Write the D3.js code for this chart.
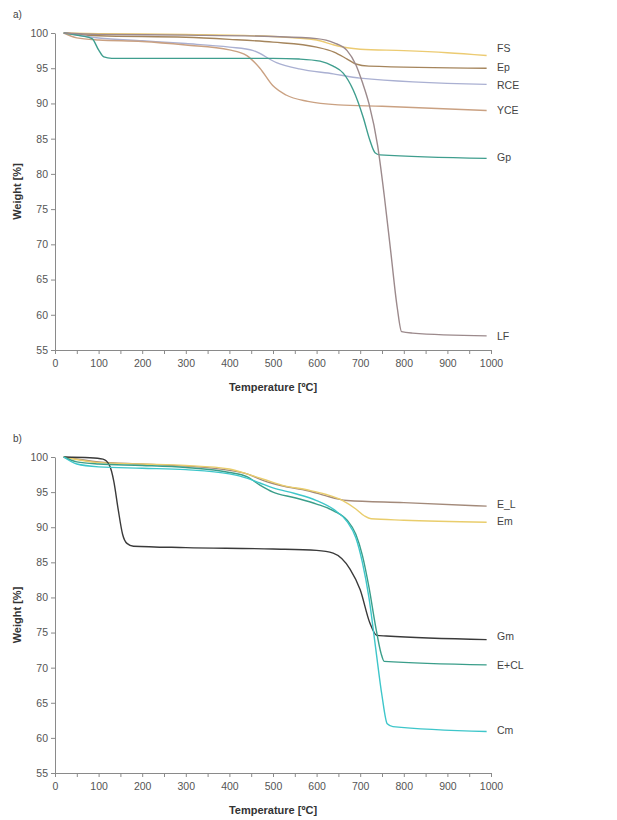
<!DOCTYPE html>
<html><head><meta charset="utf-8">
<script src="https://cdn.jsdelivr.net/npm/d3@7"></script>
<style>body{margin:0;background:#fff}text{font-family:"Liberation Sans",Arial,sans-serif}</style>
</head><body>
<svg id="c" width="617" height="820"></svg>
<script>
// ---------- data ----------
const xTicks = [0,100,200,300,400,500,600,700,800,900,1000];
const yTicks = [55,60,65,70,75,80,85,90,95,100];

// panel a)
const seriesA = ["FS","Ep","RCE","YCE","Gp","LF"];
const FS  = [[20,100],[100,99.9],[300,99.8],[500,99.5],[600,99.0],[640,98.3],[670,97.9],[700,97.7],[800,97.5],[900,97.2],[990,96.8]];
const Ep  = [[20,100],[100,99.6],[300,99.4],[400,99.1],[500,98.7],[600,98.0],[640,97.3],[670,96.3],[690,95.6],[720,95.3],[990,95.0]];
const RCE = [[20,100],[100,99.3],[200,98.9],[300,98.5],[400,98.0],[455,97.5],[508,95.8],[560,94.9],[638,94.2],[700,93.6],[990,92.7]];
const YCE = [[20,100],[50,99.3],[100,99.0],[200,98.8],[300,98.3],[400,97.6],[440,96.8],[470,95.0],[500,92.5],[530,91.2],[580,90.3],[650,89.8],[750,89.6],[990,89.0]];
const Gp  = [[20,100],[60,99.6],[85,99.2],[100,97.6],[112,96.6],[130,96.4],[300,96.4],[500,96.4],[560,96.3],[608,96.0],[638,95.3],[661,94.3],[684,91.9],[707,88.0],[722,84.8],[734,83.0],[745,82.7],[990,82.2]];
const LF  = [[20,100],[100,99.8],[300,99.7],[500,99.5],[600,99.2],[640,98.6],[670,97.5],[690,95.5],[705,93.0],[720,90.0],[740,84.0],[755,77.0],[770,69.0],[785,61.0],[795,57.6],[820,57.4],[990,57.0]];
const dataA = [FS,Ep,RCE,YCE,Gp,LF];
const colorsA = ["#eccb72","#a5855c","#aab0d2","#caa182","#3f9e8e","#9c8a8c"];
const labelValA = [97.8,95.1,92.6,89.0,82.3,57.0];

// panel b)
const seriesB = ["E_L","Em","Gm","E+CL","Cm"];
const EL  = [[20,100],[100,99.3],[200,99.0],[300,98.7],[400,98.1],[440,97.6],[480,96.6],[520,95.9],[580,95.2],[620,94.5],[650,94.0],[670,93.8],[800,93.5],[990,93.0]];
const Em  = [[20,100],[100,99.2],[200,99.0],[300,98.8],[400,98.3],[440,97.6],[480,96.8],[520,96.0],[580,95.3],[620,94.7],[660,93.8],[690,92.6],[710,91.6],[725,91.2],[800,91.0],[990,90.7]];
const Gm  = [[20,100],[80,99.9],[110,99.7],[125,98.8],[135,96.5],[145,92.5],[155,89.0],[165,87.7],[180,87.3],[300,87.1],[500,86.9],[600,86.7],[638,86.3],[677,84.0],[700,81.1],[722,76.4],[738,74.6],[760,74.5],[990,74.0]];
const ECL = [[20,100],[50,99.3],[100,99.0],[200,98.8],[300,98.5],[400,97.8],[440,97.2],[470,96.0],[500,95.0],[550,94.2],[600,93.3],[640,92.3],[670,91.0],[690,89.0],[705,86.0],[720,81.5],[735,76.0],[748,72.0],[755,70.9],[990,70.4]];
const Cm  = [[20,100],[50,99.0],[100,98.6],[200,98.4],[300,98.2],[400,97.6],[440,97.0],[470,96.3],[500,95.6],[550,94.8],[600,93.8],[640,92.5],[670,90.8],[690,88.5],[705,85.0],[720,80.0],[735,73.0],[750,66.0],[762,62.0],[775,61.6],[990,60.9]];
const dataB = [EL,Em,Gm,ECL,Cm];
const colorsB = ["#a38a7a","#e9cd6c","#3a3a3a","#3a9e8a","#3ec6ca"];
const labelValB = [93.2,90.9,74.4,70.4,61.1];

// ---------- drawing ----------
const svg = d3.select("#c");

function panel(opt){
  const g = svg.append("g");
  const x = d3.scaleLinear().domain([0,1000]).range([55,491]);
  const y = d3.scaleLinear().domain([55,100]).range([opt.bottom,opt.top]);

  const xa = g.append("g").attr("transform",`translate(0,${opt.bottom})`)
    .call(d3.axisBottom(x).tickValues(d3.range(0,1001,50)).tickSize(4).tickFormat(d=>xTicks.includes(d)?d:""));
  xa.select(".domain").attr("stroke","#8a8a8a");
  xa.selectAll(".tick line").attr("stroke","#8a8a8a");
  xa.selectAll(".tick text").attr("font-size",10.5).attr("fill","#555").attr("dy","0.95em");

  const ya = g.append("g").attr("transform","translate(55,0)")
    .call(d3.axisLeft(y).tickValues(yTicks).tickSize(4).tickSizeOuter(0));
  ya.select(".domain").attr("stroke","#8a8a8a");
  ya.selectAll(".tick line").attr("stroke","#8a8a8a");
  ya.selectAll(".tick text").attr("font-size",10.5).attr("fill","#555").attr("x",-7);

  const line = d3.line().x(d=>x(d[0])).y(d=>y(d[1])).curve(d3.curveMonotoneX);
  opt.data.forEach((s,i)=>{
    g.append("path").datum(s).attr("d",line).attr("fill","none")
      .attr("stroke",opt.colors[i]).attr("stroke-width",1.4);
    g.append("text").attr("x",497).attr("y",y(opt.labelVals[i])).attr("dy","0.35em")
      .attr("font-size",10.5).attr("fill","#444").text(opt.names[i]);
  });

  g.append("text").attr("x",273).attr("y",opt.bottom+41).attr("text-anchor","middle")
    .attr("font-size",11).attr("font-weight","bold").attr("fill","#333").text("Temperature [ºC]");
  g.append("text").attr("transform",`translate(21,${(opt.top+opt.bottom)/2}) rotate(-90)`)
    .attr("text-anchor","middle").attr("font-size",11).attr("font-weight","bold").attr("fill","#333").text("Weight [%]");
  g.append("text").attr("x",13).attr("y",opt.top-15).attr("font-size",10).attr("fill","#444").text(opt.tag);
}

panel({top:33,bottom:350,data:dataA,colors:colorsA,names:seriesA,labelVals:labelValA,tag:"a)"});
panel({top:457,bottom:773,data:dataB,colors:colorsB,names:seriesB,labelVals:labelValB,tag:"b)"});
</script>
</body></html>
